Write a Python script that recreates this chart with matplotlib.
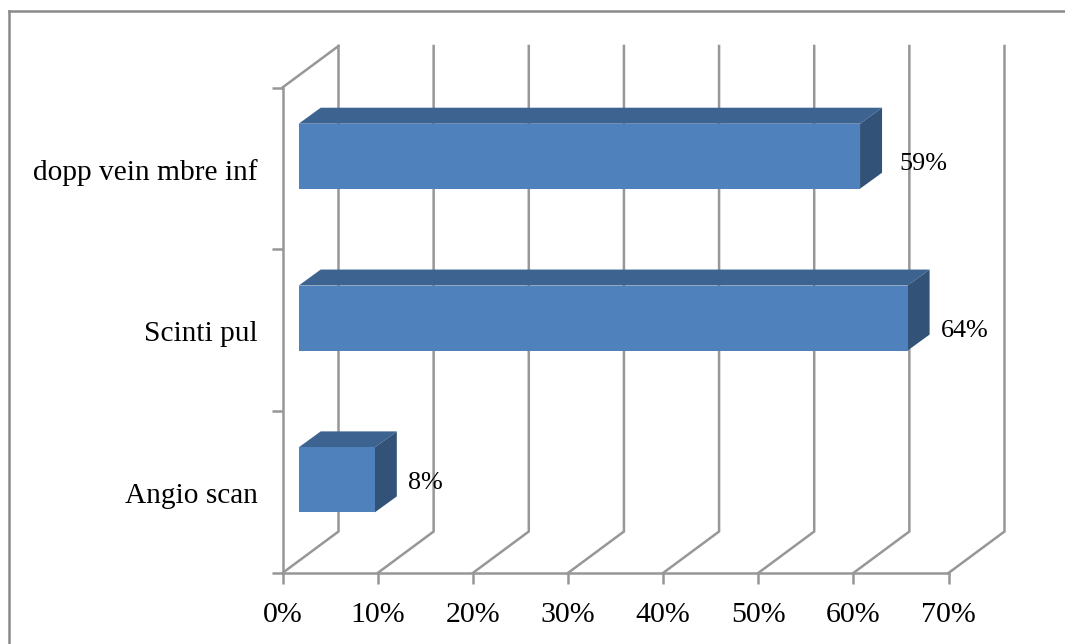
import matplotlib
matplotlib.use("Agg")
import matplotlib.pyplot as plt
from matplotlib.patches import Polygon

categories = ["Angio scan", "Scinti pul", "dopp vein mbre inf"]
values = [8, 64, 59]
x_ticks = [0, 10, 20, 30, 40, 50, 60, 70]
x_tick_labels = ["0%", "10%", "20%", "30%", "40%", "50%", "60%", "70%"]

W, H = 1065, 644
GREY = "#979797"
FRONT = "#4f81bd"
TOP = "#3d6491"
SIDE = "#325278"
LINE_W = 1.8

plt.rcParams["font.family"] = ["Liberation Serif", "DejaVu Serif"]
fig = plt.figure(figsize=(W / 100, H / 100), dpi=100, facecolor="white")

# Plot box spans the front plane of the 3-D chart
left, right, top, bottom = 282.5, 948.5, 87.5, 573.0
ax = fig.add_axes([left / W, 1 - bottom / H, (right - left) / W, (bottom - top) / H])
ax.set_xlim(0, 70)
ax.set_ylim(0, 3)
ax.patch.set_visible(False)

px_x = 70 / (right - left)
px_y = 3 / (bottom - top)

# Depth of the chart's floor and of the bars, as screen offsets
wall_dx, wall_dy = 56 * px_x, 41.5 * px_y
bar_start = 16.2 * px_x
bar_lift = 12.2 * px_y
bar_dx, bar_dy = 22 * px_x, 16 * px_y
bar_h = 65 * px_y

# Value labels sit slightly differently beside each bar (pixels from the bar's end, centre)
label_dx = [33, 33, 39]
label_dy = [-3, -12.5, -7.5]

for s in ("top", "right"):
    ax.spines[s].set_visible(False)
for s in ("left", "bottom"):
    ax.spines[s].set_color(GREY)
    ax.spines[s].set_linewidth(LINE_W)

ax.set_xticks(x_ticks)
ax.set_xticklabels(x_tick_labels, fontsize=21.5)
ax.set_yticks([0, 1, 2, 3])
ax.set_yticklabels([])
ax.tick_params(axis="both", color=GREY, width=LINE_W, length=8, pad=13)

# Back-wall gridlines with the floor diagonals leading to them
for t in x_ticks:
    ax.plot([t, t + wall_dx, t + wall_dx], [0, wall_dy, 3 + wall_dy],
            color=GREY, lw=LINE_W, clip_on=False, zorder=1, solid_joinstyle="miter")
# Diagonal at the top of the left wall
ax.plot([0, wall_dx], [3, 3 + wall_dy], color=GREY, lw=LINE_W, clip_on=False, zorder=1)

# Bars: front, top and side faces
for i, (name, v) in enumerate(zip(categories, values)):
    x0 = bar_start
    x1 = bar_start + v
    y0 = i + 0.5 - bar_h / 2 + bar_lift
    y1 = y0 + bar_h
    ax.add_patch(Polygon([(x0, y1), (x1, y1), (x1 + bar_dx, y1 + bar_dy), (x0 + bar_dx, y1 + bar_dy)],
                         closed=True, fc=TOP, ec="none", clip_on=False, zorder=3))
    ax.add_patch(Polygon([(x1, y0), (x1 + bar_dx, y0 + bar_dy), (x1 + bar_dx, y1 + bar_dy), (x1, y1)],
                         closed=True, fc=SIDE, ec="none", clip_on=False, zorder=3))
    ax.add_patch(Polygon([(x0, y0), (x1, y0), (x1, y1), (x0, y1)],
                         closed=True, fc=FRONT, ec="none", clip_on=False, zorder=4))
    ax.text(x1 + label_dx[i] * px_x, (y0 + y1) / 2 + label_dy[i] * px_y, f"{v}%",
            fontsize=18.8, color="black", va="center", ha="left", zorder=5)
    ax.text(-24.5 * px_x, i + 0.5 - 4 * px_y, name, fontsize=21.2, color="black", va="center", ha="right")

# Outer frame: only the top and left edges fall inside the canvas
frame = fig.add_axes([8.5 / W, 0, 1 - 8.5 / W, 1 - 10.5 / H], zorder=-1)
frame.set_xticks([])
frame.set_yticks([])
frame.patch.set_visible(False)
for s in ("right", "bottom"):
    frame.spines[s].set_visible(False)
for s in ("top", "left"):
    frame.spines[s].set_color("#8a8a8a")
    frame.spines[s].set_linewidth(LINE_W)

fig.savefig("out.png", dpi=100)
